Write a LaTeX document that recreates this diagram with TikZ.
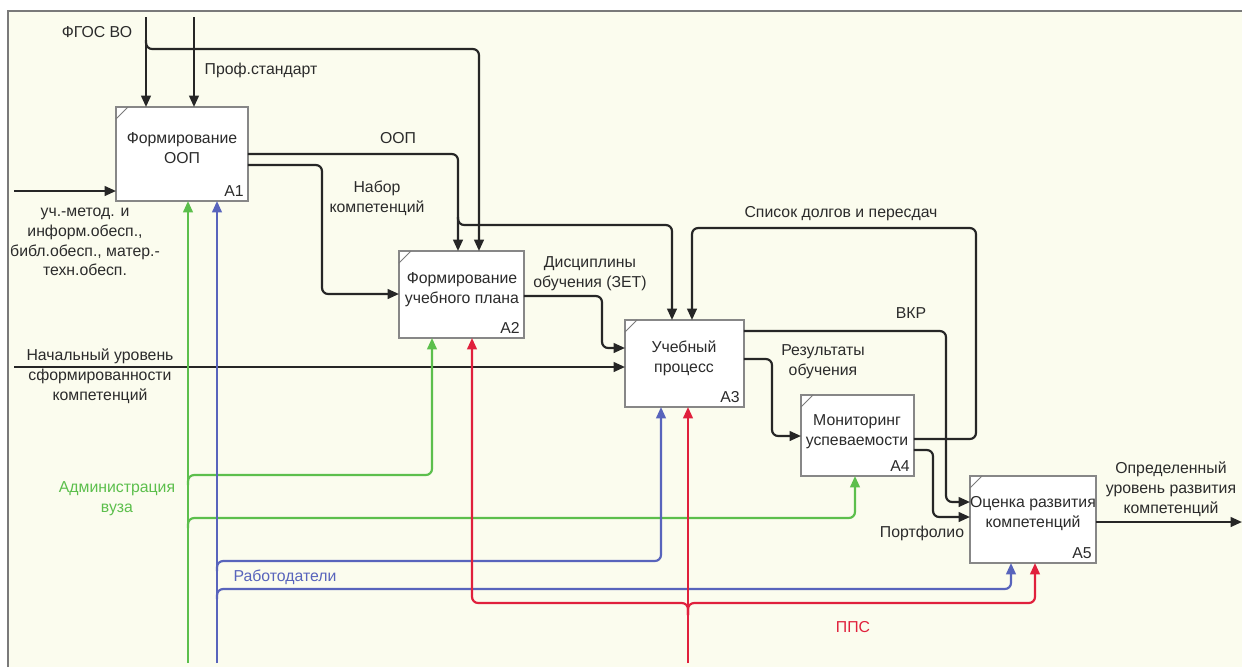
\documentclass[tikz,border=0pt]{standalone}
\usepackage{fontspec}
\setmainfont{Liberation Sans}
\usetikzlibrary{arrows.meta,calc}
\definecolor{bgc}{HTML}{FBFCEE}
\definecolor{gline}{HTML}{5CBF4C}
\definecolor{bline}{HTML}{5864BC}
\definecolor{rline}{HTML}{E0203C}
\definecolor{txt}{HTML}{2B2B2B}
\definecolor{framec}{HTML}{7A7A7A}
\begin{document}
\begin{tikzpicture}[x=0.02cm,y=-0.02cm,
  box/.style={draw=framec!90, fill=white, line width=0.8pt, inner sep=0pt, outer sep=0pt},
  lbl/.style={font=\fontsize{9}{11.3}\selectfont, text=txt, align=center, inner sep=0pt},
  tip/.style={-{Triangle[length=6.5pt,width=5.5pt]}},
  flow/.style={line width=1.25pt, draw=black!85, rounded corners=3.5pt, tip},
  gflow/.style={flow, draw=gline},
  bflow/.style={flow, draw=bline},
  rflow/.style={flow, draw=rline},
  cornermark/.style={draw=framec, line width=0.5pt}
]
\useasboundingbox (0,0) rectangle (1242,667);
\fill[bgc] (8,11) rectangle (1242,667);
\draw[framec, line width=1.3pt] (8,667) -- (8,11) -- (1242,11);

% boxes
\node[box, minimum width=2.64cm, minimum height=1.88cm] (a1) at (182,154) {};
\node[box, minimum width=2.50cm, minimum height=1.74cm] (a2) at (461.5,294.5) {};
\node[box, minimum width=2.38cm, minimum height=1.74cm] (a3) at (684.5,363.5) {};
\node[box, minimum width=2.26cm, minimum height=1.62cm] (a4) at (857.5,435.5) {};
\node[box, minimum width=2.52cm, minimum height=1.74cm] (a5) at (1033,519.5) {};
\foreach \b in {a1,a2,a3,a4,a5}{
  \draw[cornermark] ($(\b.north west)+(0,12)$) -- ($(\b.north west)+(12,0)$);
}
\node[lbl] (t1) at (182,148) {Формирование\\ООП};
\node[lbl] (t2) at (462,289.5) {Формирование\\учебного плана};
\node[lbl] (t3) at (684,358.5) {Учебный\\процесс};
\node[lbl] (t4) at (857,431.5) {Мониторинг\\успеваемости};
\node[lbl] (t5) at (1033,513.5) {Оценка развития\\компетенций};
\node[lbl, anchor=south east] (i1) at ($(a1.south east)+(-4,-4)$) {A1};
\node[lbl, anchor=south east] (i2) at ($(a2.south east)+(-4,-4)$) {A2};
\node[lbl, anchor=south east] (i3) at ($(a3.south east)+(-4,-4)$) {A3};
\node[lbl, anchor=south east] (i4) at ($(a4.south east)+(-4,-4)$) {A4};
\node[lbl, anchor=south east] (i5) at ($(a5.south east)+(-4,-4)$) {A5};

% free ends
\coordinate (fgos) at (146,17);
\coordinate (prof) at (194,17);
\coordinate (inp) at (14,191);
\coordinate (nach) at (14,367);
\coordinate (outp) at (1242,522);
\coordinate (gb) at (188,663);
\coordinate (bb) at (217,663);
\coordinate (rb) at (688,663);

% controls from top
\draw[flow] (fgos) -- (a1.north -| fgos);
\draw[flow] (prof) -- (a1.north -| prof);
\draw[flow] (146,40) |- (479,49) -- (a2.north -| 479,0);
\node[lbl] (lfgos) at (97,32) {ФГОС ВО};
\node[lbl] (lprof) at (261,70) {Проф.стандарт};

% inputs
\draw[flow] (inp) -- (a1.west |- inp);
\node[lbl] (linp) at (85,242) {уч.-метод. и\\информ.обесп.,\\библ.обесп., матер.-\\техн.обесп.};
\draw[flow] (nach) -- (a3.west |- nach);
\node[lbl] (lnach) at (100,376) {Начальный уровень\\сформированности\\компетенций};

% A1 outputs
\draw[flow] (a1.east) -| (a2.north -| 458,0);
\draw[flow] (458,217) |- (672,225) -- (a3.north -| 672,0);
\node[lbl] (loop) at (398,138) {ООП};
\draw[flow] (a1.east |- 0,165) -| (322,294) -- (a2.west |- 0,294);
\node[lbl] (lnab) at (377,198) {Набор\\компетенций};

% A2 output
\draw[flow] (a2.east |- 0,296) -| (602,348) -- (a3.west |- 0,348);
\node[lbl] (ldis) at (590,273.5) {Дисциплины\\обучения (ЗЕТ)};

% A3 outputs
\draw[flow] (a3.east |- 0,331) -| (946,502) -- (a5.west |- 0,502);
\node[lbl] (lvkr) at (911,313) {ВКР};
\draw[flow] (a3.east |- 0,359) -| (772,436) -- (a4.west |- 0,436);
\node[lbl] (lres) at (823,362) {Результаты\\обучения};

% A4 outputs
\draw[flow] (a4.east |- 0,439) -| (976,228) -| (a3.north -| 692,0);
\node[lbl] (lsp) at (841,214) {Список долгов и пересдач};
\draw[flow] (a4.east |- 0,450) -| (933,517) -- (a5.west |- 0,517);
\node[lbl] (lport) at (922,533) {Портфолио};

% A5 output
\draw[flow] (a5.east |- outp) -- (outp);
\node[lbl] (lout) at (1171,489) {Определенный\\уровень развития\\компетенций};

% green mechanism
\draw[gflow] (gb) -- (a1.south -| gb);
\draw[gflow] (188,485) |- (432,475) -- (a2.south -| 432,0);
\draw[gflow] (188,528) |- (855,518) -- (a4.south -| 855,0);
\node[lbl, text=gline] (lg) at (117,499) {Администрация\\вуза};

% blue mechanism
\draw[bflow] (bb) -- (a1.south -| bb);
\draw[bflow] (217,571) |- (661,561) -- (a3.south -| 661,0);
\draw[bflow] (217,599) |- (1011,589) -- (a5.south -| 1011,0);
\node[lbl, text=bline] (lb) at (285,577) {Работодатели};

% red mechanism
\draw[rflow] (rb) -- (a3.south -| rb);
\draw[rflow] (688,615) |- (472,603) -- (a2.south -| 472,0);
\draw[rflow] (688,615) |- (1035,603) -- (a5.south -| 1035,0);
\node[lbl, text=rline] (lr) at (853,627) {ППС};
\end{tikzpicture}
\end{document}
